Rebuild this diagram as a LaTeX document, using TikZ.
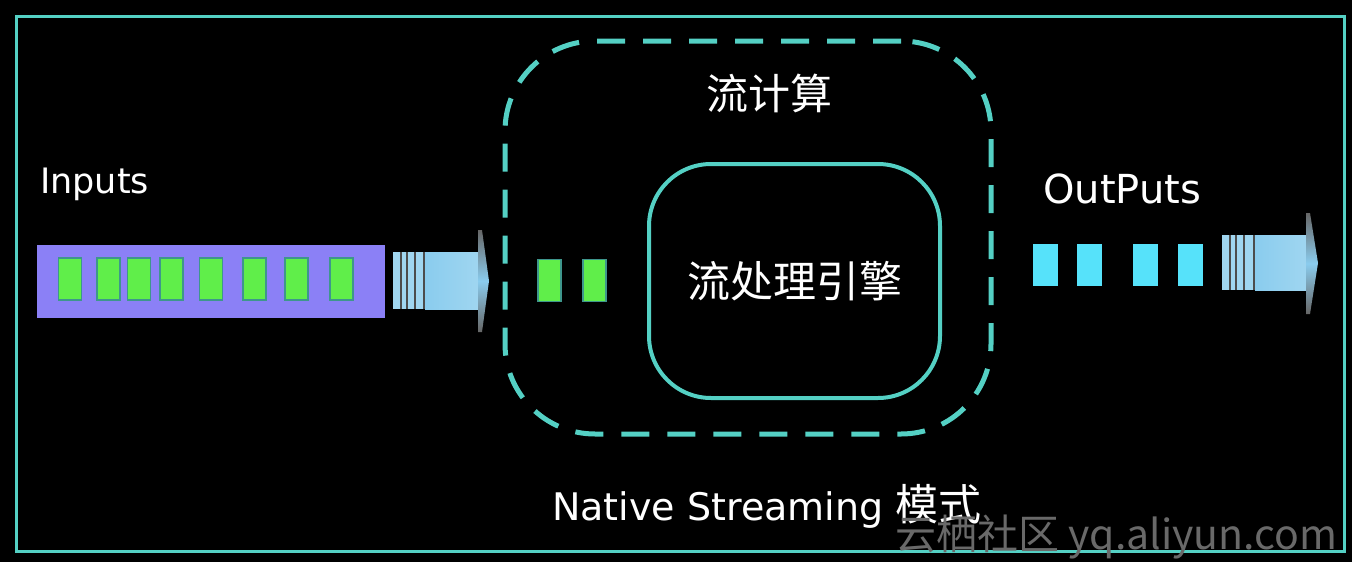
\documentclass[tikz,border=0pt]{standalone}
\usepackage{fontspec}
\setmainfont{DejaVu Sans}
\newfontfamily\cjk{Noto Sans CJK SC}
\usetikzlibrary{positioning, calc}
\definecolor{streamcyan}{RGB}{84,208,196}
\definecolor{inputpurple}{RGB}{139,128,246}
\definecolor{tokengreen}{RGB}{96,238,74}
\definecolor{tokenedge}{RGB}{62,150,140}
\definecolor{outcyan}{RGB}{86,226,250}
\definecolor{pipeblue}{RGB}{138,204,238}
\definecolor{pipelight}{RGB}{160,214,240}
\definecolor{markgray}{RGB}{105,105,105}
\tikzset{
	token/.style={draw=tokenedge, line width=1.5pt, fill=tokengreen, minimum width=23pt, minimum height=42pt, inner sep=0pt},
	outtoken/.style={draw=none, fill=outcyan, minimum width=25pt, minimum height=42pt, inner sep=0pt},
	caption/.style={text=white, inner sep=0pt}
}
\begin{document}
\begin{tikzpicture}[x=1pt, y=-1pt]
				\fill[black] (0,0) rectangle (1352,562);
				\useasboundingbox (0,0) rectangle (1352,562);
				\draw[streamcyan, line width=3pt] (16,16) rectangle (1344,551);
				
				\node[draw=none, fill=inputpurple, minimum width=348pt, minimum height=73pt, inner sep=0pt] (queue) at (211,281.5) {};
				\foreach \x [count=\i] in {70,108.5,139,171.5,211,254.5,296.5,341.5}
					\node[token] (in\i) at (\x,279) {};
				\node[caption, anchor=base west, font=\fontsize{35pt}{40pt}\selectfont] (inputs) at (40,193) {Inputs};
				
				\pgfmathsetmacro{\pipeh}{57}
				\fill[pipelight] (393,252) rectangle ++(32,\pipeh);
				\foreach \x in {401,407,415,424}
					\draw[black!70, line width=1.5pt] (\x,252) -- ++(0,\pipeh);
				\shade[left color=pipeblue, right color=pipelight] (425,252) rectangle ++(55,\pipeh);
				\shade[top color=black!60, bottom color=black!60, middle color=pipeblue] (478,230) -- ++(4,0) -- (489,281) -- (482,332) -- ++(-4,0) -- cycle;
				
				\node[draw=streamcyan, line width=5pt, dash pattern=on 28pt off 18pt, rounded corners=90pt, minimum width=486pt, minimum height=393pt] (stream) at (748,237.5) {};
				\node[caption, font=\cjk\fontsize{42pt}{46pt}\selectfont] (title) at (769.5,93) {流计算};
				\node[draw=streamcyan, line width=4pt, rounded corners=62pt, minimum width=291pt, minimum height=234pt, text=white, font=\cjk\fontsize{43pt}{47pt}\selectfont] (engine) at (794.5,281) {流处理引擎};
				\node[token] (mid1) at (549.5,280.5) {};
				\node[token] (mid2) at (594.5,280.5) {};
				
				\foreach \x [count=\i] in {1045.5,1089.5,1145.5,1190.5}
					\node[outtoken] (out\i) at (\x,265) {};
				\node[caption, anchor=base west, font=\fontsize{40pt}{44pt}\selectfont] (outputs) at (1043,203) {OutPuts};
				
				\pgfmathsetmacro{\pipeh}{55}
				\fill[pipelight] (1222,235) rectangle ++(33,\pipeh);
				\foreach \x in {1230,1236,1244,1254}
					\draw[black!70, line width=1.5pt] (\x,235) -- ++(0,\pipeh);
				\shade[left color=pipeblue, right color=pipelight] (1255,235) rectangle ++(53,\pipeh);
				\shade[top color=black!60, bottom color=black!60, middle color=pipeblue] (1306,213) -- ++(4,0) -- (1318,263) -- (1310,314) -- ++(-4,0) -- cycle;
				
				\node[caption, anchor=base west, font=\fontsize{38pt}{42pt}\selectfont] (mode) at (552,520) {Native Streaming {\cjk\fontsize{43pt}{47pt}\selectfont 模式}};
				\node[text=markgray, anchor=base west, inner sep=0pt, font=\cjk\fontsize{41pt}{45pt}\selectfont] (mark) at (895,549) {云栖社区 yq.aliyun.com};
\end{tikzpicture}
\end{document}
